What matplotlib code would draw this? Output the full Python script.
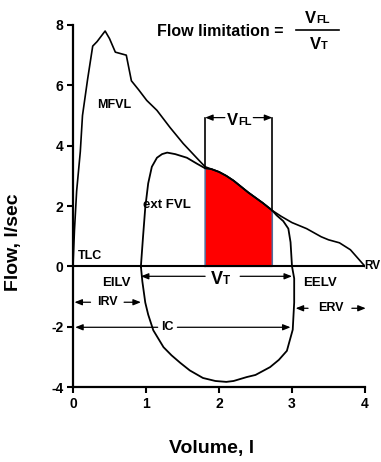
import numpy as np
import matplotlib
matplotlib.use("Agg")
import matplotlib.pyplot as plt

plt.rcParams["font.family"] = ["Liberation Sans", "DejaVu Sans"]
plt.rcParams["font.weight"] = "bold"
plt.rcParams["axes.unicode_minus"] = False

# maximal flow-volume loop (expiratory limb), volume in l, flow in l/sec
mfvl_vol = [0, 0.02, 0.05, 0.1, 0.13, 0.2, 0.27, 0.33, 0.44, 0.5, 0.58, 0.73, 0.8,
            0.9, 1.01, 1.15, 1.33, 1.51, 1.7, 1.81, 1.9, 2.0, 2.1, 2.2, 2.4, 2.6,
            2.73, 2.85, 3.0, 3.2, 3.4, 3.5, 3.65, 3.8, 4.0]
mfvl_flow = [0, 1.2, 2.5, 3.8, 5.0, 6.2, 7.3, 7.45, 7.8, 7.55, 7.1, 7.0, 6.15,
             5.85, 5.5, 5.17, 4.6, 4.07, 3.58, 3.3, 3.22, 3.13, 3.0, 2.84, 2.45, 2.1,
             1.85, 1.66, 1.45, 1.25, 0.98, 0.88, 0.78, 0.55, 0]

# exercise tidal flow-volume loop, closed
fvl_vol = [0.93, 0.96, 0.99, 1.03, 1.08, 1.15, 1.22, 1.29, 1.4, 1.56, 1.7, 1.81,
           1.9, 2.0, 2.1, 2.2, 2.4, 2.6, 2.73, 2.79, 2.88, 2.95, 2.98, 3.0, 3.03,
           3.03, 3.01, 2.93, 2.82, 2.7, 2.5, 2.38, 2.2, 2.1, 1.95, 1.78, 1.6, 1.47,
           1.35, 1.24, 1.1, 1.03, 0.99, 0.95, 0.93]
fvl_flow = [0, 1.0, 1.95, 2.75, 3.3, 3.6, 3.72, 3.77, 3.72, 3.6, 3.4, 3.25,
            3.22, 3.13, 3.0, 2.84, 2.45, 2.1, 1.85, 1.69, 1.5, 1.25, 0.8, 0.0, -0.4,
            -1.2, -2.1, -2.8, -3.1, -3.34, -3.6, -3.67, -3.8, -3.83, -3.8, -3.7, -3.45, -3.2,
            -2.95, -2.68, -2.12, -1.6, -1.2, -0.5, 0]

# lung volumes (l)
tlc, eilv, eelv, rv = 0.0, 0.93, 3.0, 4.0
vfl_start, vfl_end = 1.81, 2.73

xticks = [0, 1, 2, 3, 4]
yticks = [-4, -2, 0, 2, 4, 6, 8]

fig = plt.figure(figsize=(3.81, 4.62), dpi=100)
ax = fig.add_axes([0.1916, 0.1623, 0.7664, 0.7836])

ax.plot(mfvl_vol, mfvl_flow, color="black", lw=1.2, zorder=3)
ax.plot(fvl_vol, fvl_flow, color="black", lw=1.3, zorder=3)
ax.plot([tlc, rv], [0, 0], color="black", lw=1.5, zorder=3)

# flow-limited part of the tidal expiration
v = np.array(fvl_vol[:fvl_vol.index(vfl_end) + 1])
f = np.array(fvl_flow[:fvl_vol.index(vfl_end) + 1])
m = v >= vfl_start
ax.fill_between(v[m], 0, f[m], facecolor="#ff0000", edgecolor="none", zorder=2)
ax.plot(np.r_[v[m][0], v[m], v[m][-1], v[m][0]],
        np.r_[0, f[m], 0, 0], color="#4f6f9f", lw=1.1, zorder=2.5)

# V_FL bracket
bracket_y = 4.93
f_start = fvl_flow[fvl_vol.index(vfl_start)]
f_end = fvl_flow[fvl_vol.index(vfl_end)]
ax.plot([vfl_start, vfl_start], [f_start, bracket_y], color="black", lw=1.2)
ax.plot([vfl_end, vfl_end], [f_end, bracket_y], color="black", lw=1.2)

arrow_kw = dict(arrowstyle="-|>,head_length=0.45,head_width=0.18", color="black",
                lw=0.9, shrinkA=0, shrinkB=0)


def span(x0, x1, y, gap_left, gap_right):
    # two arrows pointing outward from a central label
    ax.annotate("", xy=(x0, y), xytext=(gap_left, y), arrowprops=arrow_kw,
                annotation_clip=False)
    ax.annotate("", xy=(x1, y), xytext=(gap_right, y), arrowprops=arrow_kw,
                annotation_clip=False)


def sub_label(x, y, big, small, big_size, small_size, va="baseline"):
    ax.text(x, y, big, ha="right", va=va, fontsize=big_size, fontweight="bold")
    ax.text(x, y, small, ha="left", va=va, fontsize=small_size, fontweight="bold")


span(vfl_start, vfl_end, bracket_y, 2.08, 2.47)
sub_label(2.26, 4.67, "V", "FL", 12, 8)

span(eilv, eelv, -0.33, 1.81, 2.29)
sub_label(2.05, -0.58, "V", "T", 13, 8.5)

span(tlc + 0.02, eilv, -1.19, 0.24, 0.70)
ax.text(0.47, -1.19, "IRV", ha="center", va="center", fontsize=9)

span(eelv + 0.05, rv + 0.01, -1.39, 3.22, 3.82)
ax.text(3.53, -1.39, "ERV", ha="center", va="center", fontsize=9)

span(tlc + 0.03, eelv - 0.02, -2.02, 1.16, 1.43)
ax.text(1.29, -2.02, "IC", ha="center", va="center", fontsize=9)

ax.text(0.07, 0.33, "TLC", ha="left", va="center", fontsize=9)
ax.text(0.56, 5.36, "MFVL", ha="center", va="center", fontsize=9)
ax.text(1.29, 2.02, "ext FVL", ha="center", va="center", fontsize=9.5)
ax.text(0.6, -0.56, "EILV", ha="center", va="center", fontsize=9.5)
ax.text(3.15, -0.56, "EELV", ha="left", va="center", fontsize=9.5)
fig.text(0.998, 0.4237, "RV", ha="right", va="center", fontsize=8.5)

# title formula
ax.text(2.88, 7.8, "Flow limitation =", ha="right", va="center", fontsize=11.5)
ax.plot([3.05, 3.64], [7.85, 7.85], color="black", lw=1.2, clip_on=False)
sub_label(3.33, 8.05, "V", "FL", 12, 8)
sub_label(3.40, 7.19, "V", "T", 12, 8)

ax.set_xlim(0, 4)
ax.set_ylim(-4, 8)
ax.set_xticks(xticks)
ax.set_yticks(yticks)
ax.tick_params(direction="out", length=4, width=1.5, labelsize=10, pad=3)
for lab in ax.get_xticklabels() + ax.get_yticklabels():
    lab.set_fontweight("bold")
for side in ["top", "right"]:
    ax.spines[side].set_visible(False)
for side in ["left", "bottom"]:
    ax.spines[side].set_linewidth(1.6)

ax.set_ylabel("Flow, l/sec", fontsize=14, fontweight="bold")
ax.yaxis.set_label_coords(-0.175, 0.40)
ax.set_xlabel("Volume, l", fontsize=14, fontweight="bold")
ax.xaxis.set_label_coords(0.476, -0.146)

fig.savefig("out.png", dpi=100)
